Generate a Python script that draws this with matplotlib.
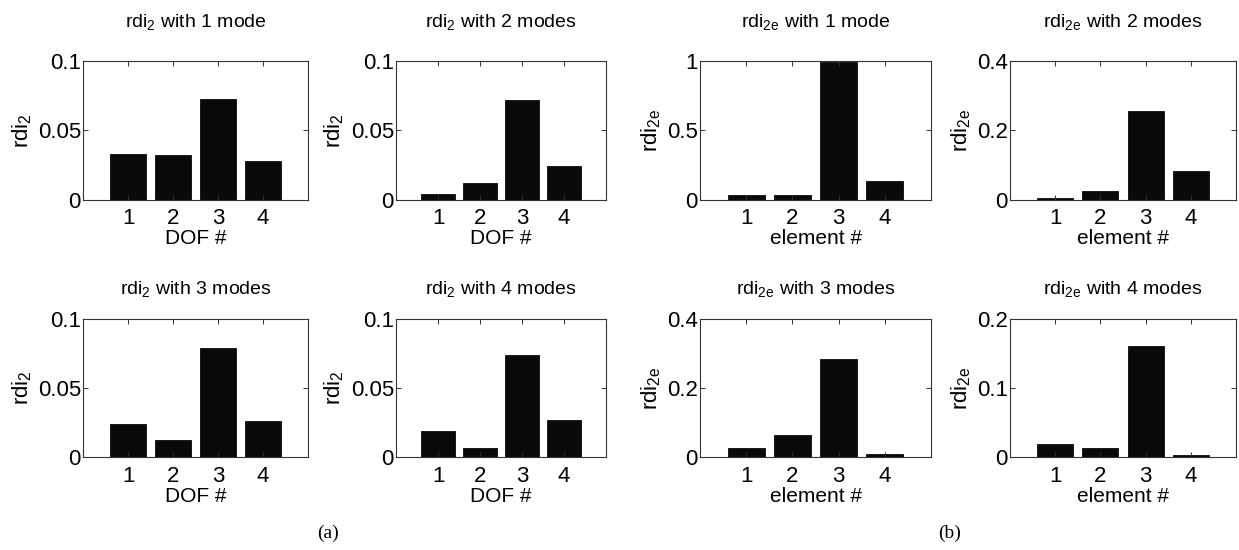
import matplotlib
matplotlib.use("Agg")
import matplotlib.pyplot as plt

plt.rcParams['font.family'] = ['Liberation Sans', 'DejaVu Sans']
plt.rcParams['mathtext.fontset'] = 'custom'
plt.rcParams['mathtext.rm'] = 'Liberation Sans'

# Bar positions (DOF / element index)
positions = [1, 2, 3, 4]
tick_labels = ['1', '2', '3', '4']

# rdi_2 per DOF for 1..4 modes
rdi2_1mode = [0.0330, 0.0325, 0.0730, 0.0283]
rdi2_2modes = [0.0045, 0.0124, 0.0717, 0.0247]
rdi2_3modes = [0.0238, 0.0123, 0.0790, 0.0262]
rdi2_4modes = [0.0192, 0.0065, 0.0740, 0.0271]

# rdi_2e per element for 1..4 modes
rdi2e_1mode = [0.036, 0.036, 0.990, 0.136]
rdi2e_2modes = [0.0058, 0.0250, 0.2570, 0.0825]
rdi2e_3modes = [0.0260, 0.0640, 0.2830, 0.0095]
rdi2e_4modes = [0.0196, 0.0139, 0.1610, 0.0030]

titles = [
    r'rdi$_{\mathregular{2}}$ with 1 mode', r'rdi$_{\mathregular{2}}$ with 2 modes',
    r'rdi$_{\mathregular{2e}}$ with 1 mode', r'rdi$_{\mathregular{2e}}$ with 2 modes',
    r'rdi$_{\mathregular{2}}$ with 3 modes', r'rdi$_{\mathregular{2}}$ with 4 modes',
    r'rdi$_{\mathregular{2e}}$ with 3 modes', r'rdi$_{\mathregular{2e}}$ with 4 modes',
]
series = [rdi2_1mode, rdi2_2modes, rdi2e_1mode, rdi2e_2modes,
          rdi2_3modes, rdi2_4modes, rdi2e_3modes, rdi2e_4modes]
ylabels = [r'rdi$_{\mathregular{2}}$', r'rdi$_{\mathregular{2}}$',
           r'rdi$_{\mathregular{2e}}$', r'rdi$_{\mathregular{2e}}$'] * 2
xlabels = ['DOF #', 'DOF #', 'element #', 'element #'] * 2
yticks = [[0, 0.05, 0.1], [0, 0.05, 0.1], [0, 0.5, 1], [0, 0.2, 0.4],
          [0, 0.05, 0.1], [0, 0.05, 0.1], [0, 0.2, 0.4], [0, 0.1, 0.2]]
yticklabels = [['0', '0.05', '0.1'], ['0', '0.05', '0.1'], ['0', '0.5', '1'], ['0', '0.2', '0.4'],
               ['0', '0.05', '0.1'], ['0', '0.05', '0.1'], ['0', '0.2', '0.4'], ['0', '0.1', '0.2']]

W, H = 1239, 550
fig = plt.figure(figsize=(W / 100, H / 100), dpi=100)

cols = [(83, 225), (396, 210), (700, 231), (1010, 226)]
rows = [(61, 139), (318.7, 138.6)]
title_pads = [24, 17]

axes_rect = []
pads = []
for (top, h), tp in zip(rows, title_pads):
    for left, w in cols:
        axes_rect.append([left / W, 1 - (top + h) / H, w / W, h / H])
        pads.append(tp)

edge = '#333333'
for i, rect in enumerate(axes_rect):
    ax = fig.add_axes(rect)
    ax.bar(positions, series[i], width=0.8, color='#0a0a0a', edgecolor='#0a0a0a', linewidth=0.6)
    ax.set_xlim(0, 5)
    ax.set_ylim(yticks[i][0], yticks[i][-1])
    ax.set_xticks(positions)
    ax.set_xticklabels(tick_labels)
    ax.set_yticks(yticks[i])
    ax.set_yticklabels(yticklabels[i])
    ax.tick_params(direction='in', top=True, right=True, length=3.5, width=0.7,
                   color=edge, labelsize=16)
    ax.tick_params(axis='x', pad=6)
    ax.tick_params(axis='y', pad=1.5)
    for s in ax.spines.values():
        s.set_color(edge)
        s.set_linewidth(0.8)
    ax.set_title(titles[i], fontsize=14, pad=pads[i])
    ax.set_xlabel(xlabels[i], fontsize=15, labelpad=0)
    ax.set_ylabel(ylabels[i], fontsize=16, labelpad=3)

fig.text(328 / W, 1 - 533 / H, '(a)', family=['Liberation Serif', 'DejaVu Serif'],
         fontsize=14, ha='center', va='center')
fig.text(950 / W, 1 - 533 / H, '(b)', family=['Liberation Serif', 'DejaVu Serif'],
         fontsize=14, ha='center', va='center')

fig.savefig('out.png', dpi=100, facecolor='white')
